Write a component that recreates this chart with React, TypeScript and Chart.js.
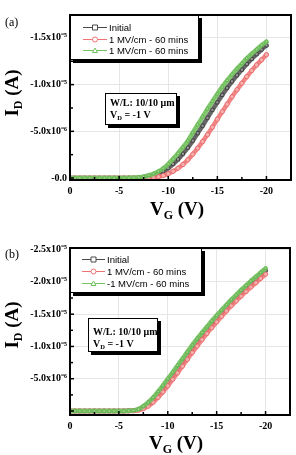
import React, { useEffect, useRef } from 'react';
import { Chart, registerables } from 'chart.js';

Chart.register(...registerables);

// Gate voltage V_G (V)
const gateVoltageV = [0, -0.5, -1, -1.5, -2, -2.5, -3, -3.5, -4, -4.5, -5, -5.5, -6, -6.5, -7, -7.5, -8, -8.5, -9, -9.5, -10, -10.5, -11, -11.5, -12, -12.5, -13, -13.5, -14, -14.5, -15, -15.5, -16, -16.5, -17, -17.5, -18, -18.5, -19, -19.5, -20];

// |I_D| in microamps (plotted as negative drain current)
const panelAInitial = [0, 0, 0, 0, 0, 0, 0, 0, 0, 0, 0, 0, 0, 0.01, 0.02, 0.06, 0.13, 0.25, 0.45, 0.72, 1.05, 1.5, 2.0, 2.6, 3.25, 4.0, 4.8, 5.6, 6.45, 7.3, 8.1, 8.9, 9.65, 10.35, 11.0, 11.6, 12.2, 12.75, 13.25, 13.75, 14.2];
const panelAPositive = [0, 0, 0, 0, 0, 0, 0, 0, 0, 0, 0, 0, 0, 0, 0, 0, 0.02, 0.06, 0.14, 0.26, 0.45, 0.72, 1.05, 1.45, 1.95, 2.55, 3.2, 3.9, 4.65, 5.45, 6.3, 7.1, 7.9, 8.7, 9.45, 10.15, 10.85, 11.5, 12.1, 12.65, 13.2];
const panelANegative = [0, 0, 0, 0, 0, 0, 0, 0, 0, 0, 0, 0.01, 0.02, 0.04, 0.08, 0.15, 0.27, 0.45, 0.7, 1.05, 1.5, 2.05, 2.65, 3.3, 4.0, 4.85, 5.7, 6.55, 7.4, 8.2, 9.0, 9.75, 10.45, 11.1, 11.7, 12.25, 12.8, 13.3, 13.75, 14.2, 14.6];

const panelBInitial = [0, 0, 0, 0, 0, 0, 0, 0, 0, 0, 0, 0, 0.02, 0.07, 0.22, 0.58, 1.1, 1.8, 2.6, 3.5, 4.5, 5.5, 6.55, 7.6, 8.65, 9.7, 10.7, 11.7, 12.6, 13.5, 14.4, 15.25, 16.05, 16.85, 17.6, 18.35, 19.05, 19.75, 20.45, 21.1, 21.75];
const panelBPositive = [0, 0, 0, 0, 0, 0, 0, 0, 0, 0, 0, 0, 0.01, 0.04, 0.12, 0.35, 0.75, 1.35, 2.1, 2.95, 3.9, 4.9, 5.9, 6.95, 8.0, 9.05, 10.05, 11.05, 12.0, 12.9, 13.8, 14.65, 15.5, 16.3, 17.05, 17.8, 18.5, 19.2, 19.85, 20.55, 21.2];
const panelBNegative = [0, 0, 0, 0, 0, 0, 0, 0, 0, 0, 0, 0, 0.03, 0.1, 0.3, 0.75, 1.35, 2.1, 3.0, 3.95, 5.0, 6.0, 7.05, 8.1, 9.15, 10.2, 11.2, 12.15, 13.05, 13.95, 14.8, 15.65, 16.45, 17.25, 18.0, 18.75, 19.45, 20.15, 20.8, 21.45, 22.1];

const panelALabels = ['Initial', '1 MV/cm - 60 mins', '1 MV/cm - 60 mins'];
const panelBLabels = ['Initial', '1 MV/cm - 60 mins', '-1 MV/cm - 60 mins'];

const seriesColors = ['#4a4a4a', '#f07272', '#72c260'];
const seriesLineColors = ['rgba(85,85,85,0.9)', 'rgba(240,120,120,0.9)', 'rgba(118,195,98,0.95)'];
const seriesPointColors = ['#333333', '#e86060', '#5cb048'];
const seriesPointStyles = ['rect', 'circle', 'triangle'];

const SERIF = '"Liberation Serif", "Times New Roman", serif';
const SANS = '"Liberation Sans", Arial, sans-serif';

type PanelCfg = {
  tag: string;
  labels: string[];
  series: number[][];
  yMin: number;
  yMax: number;
  showZero: boolean;
  h: number;
  area: { left: number; right: number; top: number; bottom: number };
  legend: { x: number; y: number; w: number; h: number; rows: number[]; s0: number; s1: number; tx: number };
  info: { x: number; y: number; w: number; h: number; b1: number; b2: number; tx: number };
  yTitle: { x: number; cy: number };
  xTitle: { cx: number; base: number };
  tagBase: number;
};

const panelA: PanelCfg = {
  tag: '(a)',
  labels: panelALabels,
  series: [panelAInitial, panelAPositive, panelANegative],
  yMin: -17.45e-6,
  yMax: 0.21e-6,
  showZero: true,
  h: 227,
  area: { left: 70, right: 292, top: 15, bottom: 180 },
  legend: { x: 70, y: 15, w: 129, h: 45, rows: [27, 39, 50], s0: 83, s1: 107, tx: 109 },
  info: { x: 105, y: 93, w: 72, h: 32, b1: 106, b2: 118, tx: 110 },
  yTitle: { x: 18, cy: 93 },
  xTitle: { cx: 177, base: 215 },
  tagBase: 26,
};

const panelB: PanelCfg = {
  tag: '(b)',
  labels: panelBLabels,
  series: [panelBInitial, panelBPositive, panelBNegative],
  yMin: -25.25e-6,
  yMax: 0.62e-6,
  showZero: false,
  h: 228,
  area: { left: 70, right: 290, top: 21, bottom: 188 },
  legend: { x: 70, y: 21, w: 132, h: 45, rows: [32, 44, 56], s0: 82, s1: 105, tx: 107 },
  info: { x: 88, y: 91, w: 70, h: 34, b1: 108, b2: 120, tx: 93 },
  yTitle: { x: 18, cy: 98 },
  xTitle: { cx: 176, base: 222 },
  tagBase: 31,
};

function drawMarker(ctx: CanvasRenderingContext2D, style: string, x: number, y: number, r: number, color: string) {
  ctx.save();
  ctx.strokeStyle = color;
  ctx.fillStyle = '#fff';
  ctx.lineWidth = 1;
  ctx.beginPath();
  if (style === 'rect') ctx.rect(x - r, y - r, 2 * r, 2 * r);
  else if (style === 'circle') ctx.arc(x, y, r, 0, Math.PI * 2);
  else {
    ctx.moveTo(x, y - r);
    ctx.lineTo(x + r, y + r * 0.8);
    ctx.lineTo(x - r, y + r * 0.8);
    ctx.closePath();
  }
  ctx.fill();
  ctx.stroke();
  ctx.restore();
}

function makeDecor(cfg: PanelCfg) {
  return {
    id: 'panelDecor' + cfg.tag,
    afterDatasetsDraw(chart: any) {
      const ctx: CanvasRenderingContext2D = chart.ctx;
      const a = chart.chartArea;
      ctx.save();
      // frame
      ctx.strokeStyle = '#000';
      ctx.lineWidth = 2;
      ctx.strokeRect(a.left, a.top, a.right - a.left, a.bottom - a.top);
      // inward tick marks
      ctx.lineWidth = 1.5;
      const xs = chart.scales.x;
      xs.ticks.forEach((t: any) => {
        const p = xs.getPixelForValue(t.value);
        const k = Math.round(-t.value / 2.5);
        const len = k % 2 === 0 ? 4 : 3;
        ctx.beginPath();
        ctx.moveTo(p, a.bottom);
        ctx.lineTo(p, a.bottom - len);
        ctx.stroke();
      });
      const ys = chart.scales.y;
      ys.ticks.forEach((t: any) => {
        const p = ys.getPixelForValue(t.value);
        const k = Math.round(-t.value / 2.5e-6);
        const len = k % 2 === 0 ? 4 : 3;
        ctx.beginPath();
        ctx.moveTo(a.left, p);
        ctx.lineTo(a.left + len, p);
        ctx.stroke();
      });

      // legend box with shadow
      const L = cfg.legend;
      ctx.fillStyle = '#000';
      ctx.fillRect(L.x + 3, L.y + 3, L.w, L.h);
      ctx.fillStyle = '#fff';
      ctx.fillRect(L.x, L.y, L.w, L.h);
      ctx.lineWidth = 1;
      ctx.strokeStyle = '#000';
      ctx.strokeRect(L.x + 0.5, L.y + 0.5, L.w - 1, L.h - 1);
      ctx.font = '9.5px ' + SANS;
      ctx.textBaseline = 'middle';
      ctx.textAlign = 'left';
      cfg.labels.forEach((lab, i) => {
        const y = L.rows[i];
        ctx.strokeStyle = seriesColors[i];
        ctx.lineWidth = 1;
        ctx.beginPath();
        ctx.moveTo(L.s0, y + 0.5);
        ctx.lineTo(L.s1, y + 0.5);
        ctx.stroke();
        drawMarker(ctx, seriesPointStyles[i], (L.s0 + L.s1) / 2, y + 0.5, 2.5, seriesColors[i]);
        ctx.fillStyle = '#000';
        ctx.fillText(lab, L.tx, y + 1);
      });

      // info box
      const I = cfg.info;
      ctx.fillStyle = '#000';
      ctx.fillRect(I.x + 3, I.y + 3, I.w, I.h);
      ctx.fillStyle = '#fff';
      ctx.fillRect(I.x, I.y, I.w, I.h);
      ctx.strokeStyle = '#000';
      ctx.lineWidth = 1;
      ctx.strokeRect(I.x + 0.5, I.y + 0.5, I.w - 1, I.h - 1);
      ctx.fillStyle = '#000';
      ctx.textBaseline = 'alphabetic';
      ctx.font = 'bold 10px ' + SERIF;
      ctx.fillText('W/L: 10/10 \u03bcm', I.tx, I.b1);
      ctx.fillText('V', I.tx, I.b2);
      let w = ctx.measureText('V').width;
      ctx.font = 'bold 6.5px ' + SERIF;
      ctx.fillText('D', I.tx + w, I.b2 + 2);
      w += ctx.measureText('D').width;
      ctx.font = 'bold 10px ' + SERIF;
      ctx.fillText(' = -1 V', I.tx + w, I.b2);

      // x title
      ctx.font = 'bold 19px ' + SERIF;
      const w1 = ctx.measureText('V').width;
      const w3 = ctx.measureText(' (V)').width;
      ctx.font = 'bold 12px ' + SERIF;
      const w2 = ctx.measureText('G').width;
      const x0 = cfg.xTitle.cx - (w1 + w2 + w3) / 2;
      ctx.font = 'bold 19px ' + SERIF;
      ctx.fillText('V', x0, cfg.xTitle.base);
      ctx.font = 'bold 12px ' + SERIF;
      ctx.fillText('G', x0 + w1, cfg.xTitle.base + 4);
      ctx.font = 'bold 19px ' + SERIF;
      ctx.fillText(' (V)', x0 + w1 + w2, cfg.xTitle.base);

      // y title (rotated)
      ctx.save();
      ctx.translate(cfg.yTitle.x, cfg.yTitle.cy);
      ctx.rotate(-Math.PI / 2);
      ctx.font = 'bold 19px ' + SERIF;
      const v1 = ctx.measureText('I').width;
      const v3 = ctx.measureText(' (A)').width;
      ctx.font = 'bold 12px ' + SERIF;
      const v2 = ctx.measureText('D').width;
      const y0 = -(v1 + v2 + v3) / 2;
      ctx.font = 'bold 19px ' + SERIF;
      ctx.fillText('I', y0, 0);
      ctx.font = 'bold 12px ' + SERIF;
      ctx.fillText('D', y0 + v1, 4);
      ctx.font = 'bold 19px ' + SERIF;
      ctx.fillText(' (A)', y0 + v1 + v2, 0);
      ctx.restore();

      // panel tag
      ctx.font = '12px ' + SERIF;
      ctx.fillStyle = '#000';
      ctx.fillText(cfg.tag, 5, cfg.tagBase);
      ctx.restore();
    },
  };
}

const xTick = (v: number) => {
  const k = Math.round(-v / 2.5);
  if (k % 2 !== 0 || k > 8) return '';
  return k === 0 ? '0' : '-' + String(k * 2.5);
};

const yTickFor = (showZero: boolean) => (v: number) => {
  const k = Math.round(-v / 2.5e-6);
  if (k % 2 !== 0) return '';
  if (k === 0) return showZero ? '-0.0' : '';
  const m = k * 2.5;
  return m < 10 ? `-${m.toFixed(1)}x10\u207b\u2076` : `-${(m / 10).toFixed(1)}x10\u207b\u2075`;
};

const gridColor = (step: number) => (c: any) => {
  const v = c.tick ? c.tick.value : 0;
  const k = Math.round(-v / step);
  return k % 2 === 0 && k !== 0 ? '#e6e6e6' : 'rgba(0,0,0,0)';
};

function Panel({ cfg }: { cfg: PanelCfg }) {
  const ref = useRef<HTMLCanvasElement>(null);
  useEffect(() => {
    const canvas = ref.current;
    if (!canvas) return;
    const tickFont = { family: SERIF, weight: 'bold' as const, size: 10 };
    const datasets = cfg.series.map((vals, i) => ({
      label: cfg.labels[i],
      data: gateVoltageV.map((vg, j) => ({ x: vg, y: -vals[j] * 1e-6 })),
      borderColor: seriesLineColors[i],
      borderWidth: 4.5,
      borderCapStyle: 'round' as const,
      borderJoinStyle: 'round' as const,
      pointStyle: seriesPointStyles[i] as any,
      pointRadius: 2.2,
      pointBorderWidth: 0.8,
      pointBorderColor: seriesPointColors[i],
      pointBackgroundColor: 'rgba(255,255,255,0.35)',
      tension: 0.2,
      order: 2 - i,
    }));
    const chart = new Chart(canvas, {
      type: 'line',
      data: { datasets },
      options: {
        responsive: false,
        animation: false,
        devicePixelRatio: 1,
        layout: { padding: { left: 0, right: 296 - cfg.area.right, top: cfg.area.top, bottom: 0 } },
        plugins: { legend: { display: false }, tooltip: { enabled: false } },
        scales: {
          x: {
            type: 'linear',
            reverse: true,
            min: -22.5,
            max: 0,
            afterFit: (s: any) => {
              s.height = cfg.h - cfg.area.bottom;
            },
            ticks: {
              stepSize: 2.5,
              autoSkip: false,
              maxRotation: 0,
              padding: 5,
              color: '#000',
              font: tickFont,
              callback: (v: any) => xTick(Number(v)),
            },
            grid: { color: gridColor(2.5), drawTicks: false, lineWidth: 1 },
            border: { display: false },
          },
          y: {
            type: 'linear',
            reverse: true,
            min: cfg.yMin,
            max: cfg.yMax,
            afterFit: (s: any) => {
              s.width = cfg.area.left;
            },
            ticks: {
              stepSize: 2.5e-6,
              autoSkip: false,
              includeBounds: false,
              padding: 3,
              color: '#000',
              font: tickFont,
              callback: (v: any) => yTickFor(cfg.showZero)(Number(v)),
            },
            grid: { color: gridColor(2.5e-6), drawTicks: false, lineWidth: 1 },
            border: { display: false },
          },
        },
      },
      plugins: [makeDecor(cfg)],
    });
    return () => chart.destroy();
  }, [cfg]);
  return <canvas ref={ref} width={296} height={cfg.h} style={{ display: 'block', width: 296, height: cfg.h }} />;
}

export default function App() {
  useEffect(() => {
    document.body.style.margin = '0';
  }, []);
  return (
    <div style={{ position: 'absolute', left: 0, top: 0, width: 296, height: 455, background: '#fff' }}>
      <Panel cfg={panelA} />
      <Panel cfg={panelB} />
    </div>
  );
}
